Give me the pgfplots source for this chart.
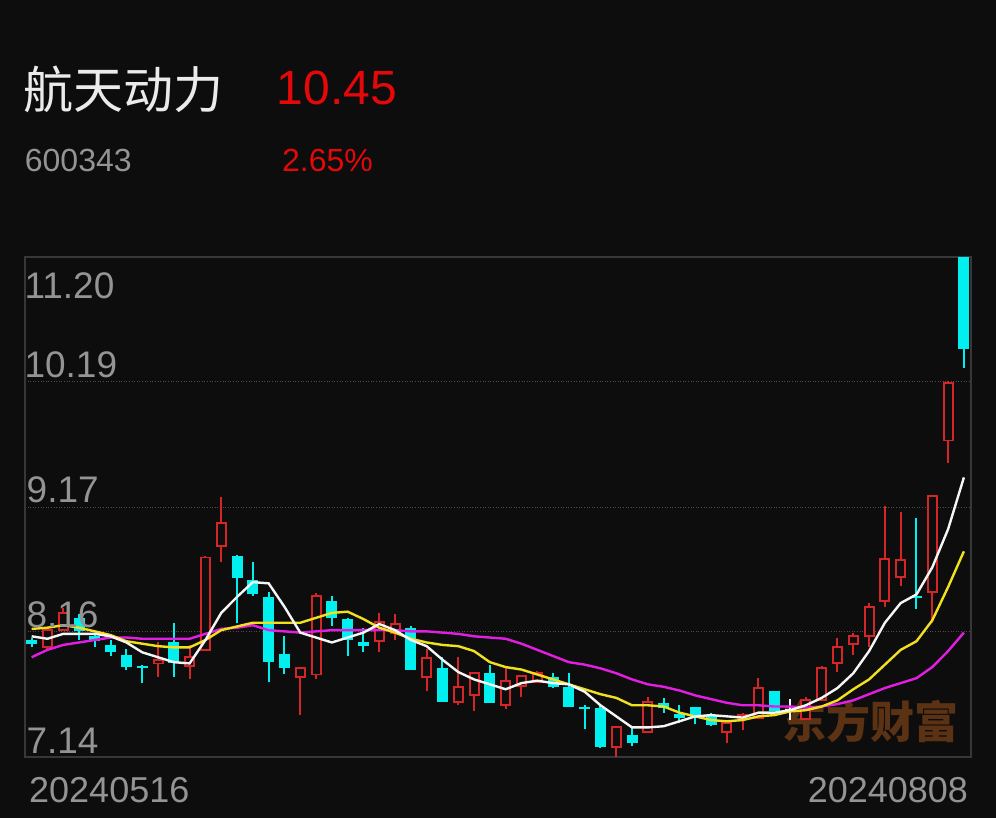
\documentclass[border=0pt]{standalone}
\usepackage{fontspec}
\setmainfont{Liberation Sans}
\newfontfamily\cjk{Noto Sans CJK SC}
\usepackage{pgfplots}
\usepackage{pgfplotstable}
\pgfplotsset{compat=1.18}

\definecolor{bg}{RGB}{13,13,13}
\definecolor{frame}{RGB}{55,55,55}
\definecolor{gridc}{RGB}{78,78,78}
\definecolor{lbl}{RGB}{148,148,148}
\definecolor{titlec}{RGB}{235,235,235}
\definecolor{pricered}{RGB}{228,8,8}
\definecolor{candred}{RGB}{212,38,38}
\definecolor{candcyan}{RGB}{0,240,240}
\definecolor{ma5}{RGB}{245,245,245}
\definecolor{ma10}{RGB}{240,224,30}
\definecolor{ma20}{RGB}{226,30,226}
\definecolor{wm}{RGB}{92,50,20}

% rising days: index open high low close
\pgfplotstableread{
i  o     h     l     c
2  8.03  8.18  8.02  8.17
3  8.17  8.35  8.16  8.31
9  7.90  8.07  7.79  7.93
11 7.88  8.05  7.77  7.95
12 8.01  8.77  8.00  8.76
13 8.85  9.25  8.72  9.04
18 7.79  7.86  7.48  7.86
19 7.81  8.47  7.77  8.45
23 8.08  8.31  7.99  8.24
24 8.15  8.30  8.09  8.22
26 7.79  8.02  7.68  7.94
28 7.59  7.95  7.56  7.71
29 7.64  7.82  7.51  7.82
31 7.56  7.86  7.53  7.76
32 7.72  7.80  7.63  7.80
33 7.75  7.84  7.74  7.82
38 7.22  7.38  7.14  7.38
40 7.34  7.63  7.34  7.59
45 7.34  7.42  7.25  7.42
46 7.45  7.50  7.36  7.48
47 7.46  7.78  7.46  7.70
50 7.45  7.63  7.45  7.60
51 7.60  7.88  7.60  7.86
52 7.90  8.11  7.83  8.03
53 8.06  8.15  7.97  8.12
54 8.12  8.39  8.03  8.36
55 8.41  9.18  8.36  8.75
56 8.60  9.13  8.53  8.74
58 8.48  9.26  8.23  9.26
59 9.71  10.19 9.53  10.18
}\upc

% falling days
\pgfplotstableread{
i  o     h     l     c
1  8.09  8.11  8.03  8.06
4  8.27  8.30  8.09  8.16
5  8.12  8.15  8.03  8.08
6  8.05  8.09  7.96  7.99
7  7.97  8.02  7.85  7.87
8  7.88  7.89  7.74  7.86
10 8.07  8.23  7.79  7.90
14 8.77  8.78  8.23  8.59
15 8.58  8.72  8.45  8.46
16 8.44  8.48  7.75  7.91
17 7.98  8.12  7.81  7.86
20 8.41  8.45  8.20  8.27
21 8.26  8.27  7.96  8.09
22 8.07  8.19  7.99  8.04
25 8.19  8.20  7.85  7.85
27 7.86  7.95  7.59  7.59
30 7.82  7.89  7.58  7.58
34 7.79  7.82  7.70  7.71
35 7.71  7.82  7.55  7.55
36 7.55  7.56  7.37  7.53
37 7.54  7.56  7.21  7.22
39 7.32  7.38  7.23  7.25
41 7.58  7.62  7.50  7.54
42 7.49  7.56  7.42  7.46
43 7.55  7.55  7.41  7.46
44 7.47  7.50  7.39  7.40
48 7.68  7.68  7.51  7.51
57 8.45  9.08  8.34  8.43
60 11.20 11.20 10.30 10.45
}\dnc

% flat day
\pgfplotstableread{
i  o     h     l     c
49 7.52  7.61  7.44  7.52
}\flatc

\pgfplotsset{
  bar/.style n args={2}{only marks, mark=none, mark size=0pt,
    mark options={draw=none, fill=none},
    error bars/.cd, y dir=both, y explicit, error mark=none,
    error bar style={line width=#1, color=#2}},
}

\begin{document}
\begin{tikzpicture}
\useasboundingbox (0,0) rectangle (996bp,818bp);
\fill[bg] (0,0) rectangle (996bp,818bp);

% watermark sits under the candles
\node[text=wm, inner sep=0pt] at (870bp,96.5bp)
  {\fontsize{44bp}{48bp}\selectfont\cjk\bfseries 东方财富};

\begin{axis}[
  at={(25bp,61bp)}, anchor=south west,
  width=946bp, height=500bp, scale only axis,
  xmin=0.58, xmax=60.45, ymin=7.14, ymax=11.20,
  axis line style={draw=frame, line width=1.5bp},
  xtick=\empty,
  ytick={8.16,9.17,10.19}, yticklabels={,,},
  major tick length=0pt,
  ymajorgrids,
  major grid style={draw=gridc, line width=0.8bp, dash pattern=on 1bp off 1.6bp},
]
% wicks
\addplot[bar={2bp}{candred}] table[x=i,
  y expr={(\thisrow{h}+\thisrow{l})/2},
  y error expr={(\thisrow{h}-\thisrow{l})/2}] {\upc};
\addplot[bar={2bp}{candcyan}] table[x=i,
  y expr={(\thisrow{h}+\thisrow{l})/2},
  y error expr={(\thisrow{h}-\thisrow{l})/2}] {\dnc};
\addplot[bar={2bp}{ma5}] table[x=i,
  y expr={(\thisrow{h}+\thisrow{l})/2},
  y error expr={(\thisrow{h}-\thisrow{l})/2}] {\flatc};
% hollow red bodies
\addplot[bar={11bp}{candred}] table[x=i,
  y expr={(\thisrow{o}+\thisrow{c})/2},
  y error expr={(\thisrow{c}-\thisrow{o})/2+0.008}] {\upc};
\addplot[bar={7bp}{bg}] table[x=i,
  y expr={(\thisrow{o}+\thisrow{c})/2},
  y error expr={max((\thisrow{c}-\thisrow{o})/2-0.008,0)}] {\upc};
% filled cyan bodies
\addplot[bar={11bp}{candcyan}] table[x=i,
  y expr={(\thisrow{o}+\thisrow{c})/2},
  y error expr={max(abs(\thisrow{o}-\thisrow{c})/2,0.005)}] {\dnc};
\addplot[bar={11bp}{ma5}] table[x=i,
  y expr={(\thisrow{o}+\thisrow{c})/2},
  y error expr={0.008}] {\flatc};

% moving averages
\addplot[ma20, line width=2.4bp, no marks] coordinates {
(1,7.95)(2,8.01)(3,8.05)(4,8.07)(5,8.09)(6,8.11)(7,8.11)(8,8.10)(9,8.10)(10,8.10)
(11,8.10)(12,8.14)(13,8.18)(14,8.19)(15,8.21)(16,8.17)(17,8.16)(18,8.15)(19,8.16)(20,8.17)
(21,8.17)(22,8.17)(23,8.17)(24,8.17)(25,8.16)(26,8.16)(27,8.15)(28,8.14)(29,8.12)(30,8.11)
(31,8.10)(32,8.06)(33,8.01)(34,7.96)(35,7.91)(36,7.89)(37,7.86)(38,7.82)(39,7.77)(40,7.73)
(41,7.71)(42,7.68)(43,7.64)(44,7.61)(45,7.58)(46,7.56)(47,7.56)(48,7.55)(49,7.55)(50,7.54)
(51,7.55)(52,7.57)(53,7.60)(54,7.65)(55,7.70)(56,7.74)(57,7.78)(58,7.87)(59,8.00)(60,8.15)
};
\addplot[ma10, line width=2.4bp, no marks] coordinates {
(1,8.18)(2,8.19)(3,8.21)(4,8.19)(5,8.16)(6,8.13)(7,8.08)(8,8.06)(9,8.04)(10,8.03)
(11,8.03)(12,8.09)(13,8.17)(14,8.20)(15,8.23)(16,8.23)(17,8.23)(18,8.23)(19,8.27)(20,8.31)
(21,8.32)(22,8.26)(23,8.19)(24,8.15)(25,8.10)(26,8.07)(27,8.05)(28,8.04)(29,8.00)(30,7.91)
(31,7.87)(32,7.85)(33,7.81)(34,7.77)(35,7.73)(36,7.69)(37,7.65)(38,7.62)(39,7.56)(40,7.56)
(41,7.55)(42,7.50)(43,7.47)(44,7.44)(45,7.43)(46,7.44)(47,7.47)(48,7.48)(49,7.51)(50,7.52)
(51,7.55)(52,7.60)(53,7.69)(54,7.77)(55,7.89)(56,8.01)(57,8.08)(58,8.25)(59,8.52)(60,8.81)
};
\addplot[ma5, line width=2.4bp, no marks] coordinates {
(1,8.12)(2,8.10)(3,8.14)(4,8.14)(5,8.14)(6,8.12)(7,8.07)(8,7.99)(9,7.95)(10,7.91)
(11,7.90)(12,8.09)(13,8.31)(14,8.44)(15,8.56)(16,8.55)(17,8.36)(18,8.15)(19,8.11)(20,8.07)
(21,8.11)(22,8.15)(23,8.22)(24,8.17)(25,8.09)(26,8.04)(27,7.93)(28,7.83)(29,7.77)(30,7.73)
(31,7.69)(32,7.74)(33,7.76)(34,7.74)(35,7.73)(36,7.67)(37,7.56)(38,7.47)(39,7.38)(40,7.38)
(41,7.39)(42,7.43)(43,7.47)(44,7.48)(45,7.47)(46,7.46)(47,7.50)(48,7.50)(49,7.52)(50,7.56)
(51,7.62)(52,7.70)(53,7.82)(54,8.00)(55,8.23)(56,8.39)(57,8.46)(58,8.68)(59,8.99)(60,9.41)
};
\end{axis}

% price scale labels inside the frame
\begin{scope}[every node/.style={text=lbl, inner sep=0pt, anchor=base west,
    font=\fontsize{37bp}{41bp}\selectfont}]
\node at (24.3bp,519.7bp) {11.20};
\node at (24.3bp,440bp) {10.19};
\node at (26.5bp,315bp) {9.17};
\node at (26.3bp,190bp) {8.16};
\node at (26.3bp,64bp) {7.14};
\end{scope}

% dates
\node[text=lbl, inner sep=0pt, anchor=base west] at (29bp,16bp)
  {\fontsize{36bp}{40bp}\selectfont 20240516};
\node[text=lbl, inner sep=0pt, anchor=base west] at (807.6bp,16bp)
  {\fontsize{36bp}{40bp}\selectfont 20240808};

% header
\node[text=titlec, inner sep=0pt, anchor=base west] at (23bp,709.5bp)
  {\fontsize{50bp}{56bp}\selectfont\cjk 航天动力};
\node[text=pricered, inner sep=0pt, anchor=base west] at (276.5bp,713bp)
  {\fontsize{48bp}{54bp}\selectfont 10.45};
\node[text=lbl, inner sep=0pt, anchor=base west] at (24.7bp,646.3bp)
  {\fontsize{32bp}{36bp}\selectfont 600343};
\node[text=pricered, inner sep=0pt, anchor=base west] at (282bp,646.3bp)
  {\fontsize{32bp}{36bp}\selectfont 2.65\%};
\end{tikzpicture}
\end{document}
